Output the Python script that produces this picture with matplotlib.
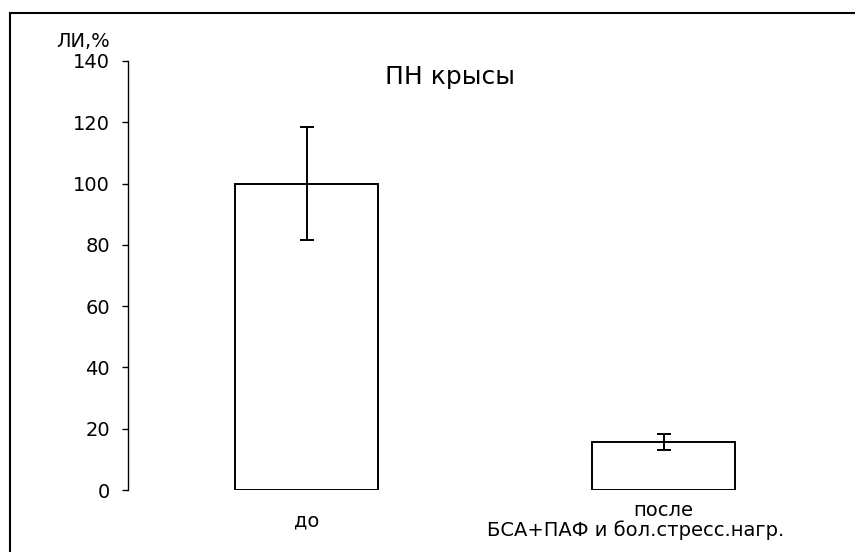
import matplotlib
matplotlib.use("Agg")
import matplotlib.pyplot as plt
from matplotlib.patches import Rectangle

plt.rcParams['font.family'] = ['DejaVu Sans']

categories = ["до", "после\nБСА+ПАФ и бол.стресс.нагр."]
values = [100.0, 15.6]
errors = [18.5, 2.6]
yticks = [0, 20, 40, 60, 80, 100, 120, 140]

fig = plt.figure(figsize=(8.55, 5.52), dpi=100)
# partial outer frame (left and top edges visible)
fig.patches.append(Rectangle((10/855, -0.1), 1.2, 1 - 13/552 + 0.1, transform=fig.transFigure,
                             fill=False, edgecolor='black', linewidth=1.5))
ax = fig.add_axes([128/855, 1 - 490/552, (842-128)/855, (490-61)/552])

x = range(len(categories))
ax.bar(x, values, width=0.4, color='white', edgecolor='black', linewidth=1.4,
       yerr=errors, error_kw=dict(ecolor='black', elinewidth=1.4, capsize=5, capthick=1.4))

ax.set_xlim(-0.5, 1.5)
ax.set_ylim(0, 140)
ax.set_yticks(yticks)
ax.set_yticklabels([str(t) for t in yticks], fontsize=14)
ax.set_xticks(list(x))
# in the original the second line of the long label sits a little left of centre
xlabels = [categories[0], categories[1] + "\u00a0" * 9]
ax.set_xticklabels(xlabels, fontsize=14, va='center', linespacing=1.05)
ax.tick_params(axis='x', length=0, pad=22)
ax.tick_params(axis='y', length=4, width=1, direction='out', pad=9)

for s in ['top', 'right', 'bottom']:
    ax.spines[s].set_visible(False)
ax.spines['left'].set_linewidth(1)

ax.text(0.36, 0.946, "ПН крысы", transform=ax.transAxes, fontsize=18, ha='left', va='baseline')
fig.text(110/855, 1 - 47/552, "ЛИ,%", fontsize=14, ha='right', va='baseline')

fig.savefig("out.png", dpi=100, facecolor='white')
